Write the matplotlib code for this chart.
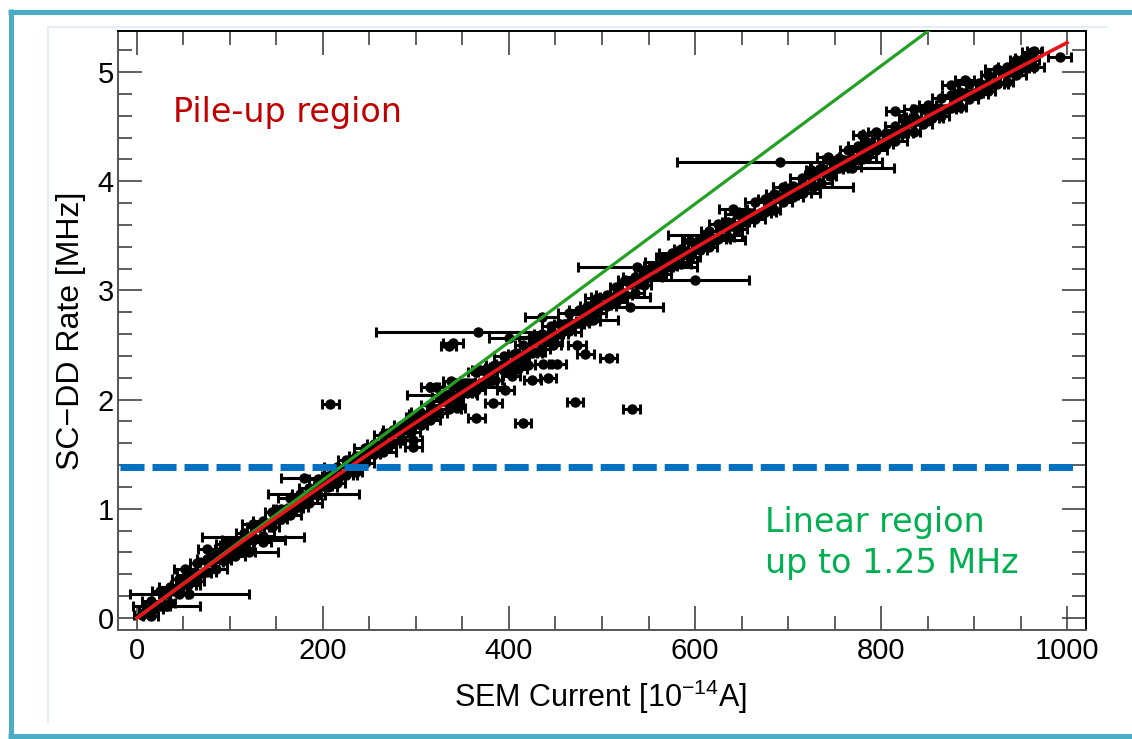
import matplotlib
matplotlib.use("Agg")
import matplotlib.pyplot as plt
from matplotlib.lines import Line2D
from matplotlib.ticker import MultipleLocator

plt.rcParams['font.family'] = ['Liberation Sans', 'DejaVu Sans']
plt.rcParams['mathtext.fontset'] = 'custom'
plt.rcParams['mathtext.rm'] = 'Liberation Sans'
plt.rcParams['mathtext.it'] = 'Liberation Sans:italic'
plt.rcParams['mathtext.bf'] = 'Liberation Sans:bold'

# ---------------- data ----------------
band_x = [10, 20, 30, 40, 50, 60, 70, 80, 90, 100,
          110, 120, 130, 140, 150, 160, 170, 180, 190, 200,
          210, 220, 230, 240, 250, 260, 270, 280, 290, 300,
          310, 320, 330, 340, 350, 360, 370, 380, 390, 400,
          410, 420, 430, 440, 450, 460, 470, 480, 490, 500,
          510, 520, 530, 540, 550, 560, 570, 580, 590, 600,
          610, 620, 630, 640, 650, 660, 670, 680, 690, 700,
          710, 720, 730, 740, 750, 760, 770, 780, 790, 800,
          810, 820, 830, 840, 850, 860, 870, 880, 890, 900,
          910, 920, 930, 940, 950, 960]
band_y = [0.07, 0.11, 0.22, 0.25, 0.30, 0.40, 0.41, 0.51, 0.58, 0.61,
          0.69, 0.72, 0.83, 0.86, 0.91, 1.00, 1.01, 1.11, 1.18, 1.21,
          1.29, 1.31, 1.42, 1.45, 1.50, 1.58, 1.59, 1.69, 1.75, 1.78,
          1.86, 1.88, 1.99, 2.01, 2.06, 2.14, 2.15, 2.24, 2.31, 2.33,
          2.41, 2.43, 2.54, 2.56, 2.60, 2.69, 2.69, 2.78, 2.84, 2.87,
          2.94, 2.96, 3.06, 3.08, 3.12, 3.21, 3.21, 3.30, 3.36, 3.38,
          3.45, 3.47, 3.57, 3.59, 3.63, 3.71, 3.71, 3.80, 3.86, 3.87,
          3.94, 3.96, 4.06, 4.08, 4.11, 4.19, 4.19, 4.28, 4.33, 4.35,
          4.42, 4.44, 4.53, 4.55, 4.58, 4.66, 4.66, 4.74, 4.80, 4.81,
          4.88, 4.89, 4.99, 5.00, 5.04, 5.11]
band_xerr = [8, 11, 6, 9, 13, 7, 10, 12, 6, 9,
             10, 7, 12, 8, 6, 11, 9, 14, 7, 10,
             9, 12, 7, 10, 6, 13, 8, 11, 9, 7,
             11, 8, 13, 6, 10, 9, 12, 7, 8, 14,
             7, 10, 9, 12, 8, 6, 11, 13, 9, 10,
             12, 7, 10, 8, 14, 9, 6, 11, 10, 8,
             9, 13, 7, 11, 8, 10, 12, 6, 9, 11,
             10, 8, 12, 7, 9, 14, 6, 10, 11, 8,
             13, 9, 7, 10, 12, 8, 11, 6, 9, 10,
             8, 12, 7, 11, 9, 10]

side_x = [15, 25, 35, 45, 55, 65, 75, 85, 95, 105,
          115, 125, 135, 145, 155, 165, 175, 185, 195, 205,
          215, 225, 235, 245, 255, 265, 275, 285, 295, 305,
          315, 325, 335, 345, 355, 365, 375, 385, 395, 405,
          415, 425, 435, 445, 455, 465, 475, 485, 495, 505,
          515, 525, 535, 545, 555, 565, 575, 585, 595, 605,
          615, 625, 635, 645, 655, 665, 675, 685, 695, 705,
          715, 725, 735, 745, 755, 765, 775, 785, 795, 805,
          815, 825, 835, 845, 855, 865, 875, 885, 895, 905,
          915, 925, 935, 945, 955, 965]
upper_y = [0.16, 0.25, 0.28, 0.36, 0.39, 0.50, 0.54, 0.59, 0.67, 0.70,
           0.78, 0.86, 0.89, 0.97, 1.00, 1.10, 1.14, 1.19, 1.27, 1.30,
           1.38, 1.45, 1.48, 1.56, 1.59, 1.68, 1.72, 1.77, 1.84, 1.87,
           1.95, 2.02, 2.05, 2.12, 2.15, 2.25, 2.28, 2.32, 2.40, 2.42,
           2.50, 2.57, 2.60, 2.67, 2.69, 2.79, 2.82, 2.86, 2.93, 2.96,
           3.03, 3.10, 3.12, 3.19, 3.22, 3.31, 3.34, 3.38, 3.45, 3.47,
           3.54, 3.61, 3.63, 3.70, 3.72, 3.81, 3.84, 3.88, 3.95, 3.96,
           4.03, 4.10, 4.12, 4.19, 4.21, 4.29, 4.32, 4.36, 4.43, 4.44,
           4.51, 4.58, 4.59, 4.66, 4.67, 4.76, 4.79, 4.82, 4.89, 4.90,
           4.97, 5.03, 5.05, 5.11, 5.13, 5.19]
lower_y = [0.02, 0.11, 0.14, 0.22, 0.30, 0.34, 0.42, 0.45, 0.53, 0.60,
           0.64, 0.72, 0.75, 0.83, 0.91, 0.94, 1.02, 1.05, 1.13, 1.20,
           1.24, 1.31, 1.34, 1.42, 1.50, 1.52, 1.60, 1.63, 1.70, 1.77,
           1.81, 1.88, 1.91, 1.98, 2.06, 2.09, 2.16, 2.18, 2.26, 2.32,
           2.36, 2.43, 2.46, 2.53, 2.60, 2.63, 2.70, 2.72, 2.79, 2.86,
           2.89, 2.96, 2.98, 3.05, 3.13, 3.15, 3.22, 3.24, 3.31, 3.37,
           3.40, 3.47, 3.49, 3.56, 3.63, 3.65, 3.72, 3.74, 3.81, 3.86,
           3.89, 3.96, 3.98, 4.05, 4.12, 4.13, 4.20, 4.22, 4.29, 4.34,
           4.37, 4.44, 4.45, 4.52, 4.58, 4.60, 4.67, 4.68, 4.75, 4.80,
           4.83, 4.89, 4.91, 4.97, 5.04, 5.05]

# scattered points / long error bars
extra_x = [5, 18, 56, 32, 52, 125, 190, 120, 125, 180, 208,
           340, 335, 367, 435, 400, 473, 482, 507, 430, 447, 437, 452,
           425, 442, 403, 369, 383, 396, 315, 322, 355, 328, 344, 304,
           383, 365, 415, 471, 532, 272, 297, 297, 270,
           375, 390, 410, 420, 338, 352,
           691, 769, 743, 727, 716, 641, 611, 620, 574, 538, 600, 520, 530, 490,
           962, 992, 815, 835, 850, 875, 890, 780, 795,
           75, 95, 115, 135, 85, 105]
extra_y = [0.03, 0.08, 0.22, 0.11, 0.45, 0.74, 1.14, 0.60, 0.71, 1.28, 1.96,
           2.52, 2.49, 2.62, 2.76, 2.56, 2.50, 2.42, 2.38, 2.44, 2.50, 2.33, 2.33,
           2.18, 2.20, 2.22, 2.27, 2.29, 2.09, 2.12, 2.12, 2.12, 2.04, 1.92, 1.89,
           1.97, 1.83, 1.79, 1.98, 1.91, 1.69, 1.63, 1.57, 1.57,
           2.25, 2.30, 2.28, 2.32, 2.17, 2.15,
           4.18, 4.12, 4.22, 3.95, 3.89, 3.75, 3.51, 3.46, 3.26, 3.21, 3.10, 2.94, 2.85, 2.73,
           5.18, 5.14, 4.64, 4.66, 4.70, 4.88, 4.93, 4.42, 4.45,
           0.63, 0.68, 0.60, 0.70, 0.55, 0.57]
extra_xerr = [8, 10, 64, 36, 12, 55, 49, 32, 34, 25, 9,
              11, 8, 110, 18, 22, 10, 9, 9, 9, 9, 9, 9,
              9, 9, 9, 9, 9, 9, 10, 8, 40, 38, 9, 9,
              9, 9, 9, 9, 9, 9, 9, 9, 9,
              8, 10, 9, 8, 9, 9,
              110, 45, 12, 43, 18, 15, 40, 34, 28, 64, 58, 32, 36, 27,
              10, 12, 10, 10, 9, 9, 10, 10, 9,
              9, 10, 12, 9, 8, 11]

# fitted curves
red_x = [0, 50, 100, 150, 200, 250, 300, 350, 400, 450, 500,
         550, 600, 650, 700, 750, 800, 850, 900, 950, 1000]
red_y = [0.0, 0.313, 0.621, 0.922, 1.217, 1.507, 1.791, 2.070, 2.343, 2.612, 2.876,
         3.135, 3.389, 3.638, 3.884, 4.125, 4.362, 4.594, 4.823, 5.048, 5.269]
green_x = [0, 1000]
green_y = [0.0, 6.32]

threshold_y = 1.38
threshold_x = [-18, 1006]

x_ticks = [0, 200, 400, 600, 800, 1000]
y_ticks = [0, 1, 2, 3, 4, 5]

# ---------------- figure ----------------
W, H = 1132, 739
fig = plt.figure(figsize=(W / 100, H / 100), dpi=100)
fig.patch.set_facecolor('white')

def fx(px):
    return px / W

def fy(py):
    return 1 - py / H

# outer frame (teal) and faint inner border
teal = '#4BACC6'
fig.add_artist(Line2D([fx(10.5), fx(10.5)], [fy(9), fy(739)], color=teal, lw=3.6,
                      transform=fig.transFigure, solid_capstyle='butt'))
fig.add_artist(Line2D([fx(8), fx(1132)], [fy(11.5), fy(11.5)], color=teal, lw=3.6,
                      transform=fig.transFigure, solid_capstyle='butt'))
fig.add_artist(Line2D([fx(8), fx(1132)], [fy(736), fy(736)], color=teal, lw=3.6,
                      transform=fig.transFigure, solid_capstyle='butt'))
faint = '#E6ECF5'
fig.add_artist(Line2D([fx(48), fx(48)], [fy(27), fy(722)], color=faint, lw=1.5,
                      transform=fig.transFigure))
fig.add_artist(Line2D([fx(48), fx(1107)], [fy(27), fy(27)], color=faint, lw=1.5,
                      transform=fig.transFigure))

ax = fig.add_axes([fx(118), 1 - 630 / H, 968 / W, 599 / H])
ax.set_xlim(-20.4, 1020.4)
ax.set_ylim(-0.11, 5.376)

eb_kw = dict(fmt='o', color='black', ecolor='black', markersize=6.5, elinewidth=2.2,
             capsize=3.5, capthick=2.2, zorder=2)
ax.errorbar(band_x, band_y, xerr=band_xerr, **eb_kw)
ax.errorbar(side_x, upper_y, xerr=band_xerr[::-1], **eb_kw)
ax.errorbar(side_x, lower_y, xerr=band_xerr, **eb_kw)
ax.errorbar(extra_x, extra_y, xerr=extra_xerr, **eb_kw)

ax.plot(green_x, green_y, color='#22A022', lw=2.3, zorder=3)
ax.plot(red_x, red_y, color='#E8161B', lw=2.6, zorder=4)
ax.plot(threshold_x, [threshold_y, threshold_y], color='#0070C0', lw=5,
        ls=(0, (3.46, 1.15)), dash_capstyle='butt', zorder=5, clip_on=False)

ax.set_xticks(x_ticks)
ax.set_yticks(y_ticks)
ax.xaxis.set_minor_locator(MultipleLocator(50))
ax.yaxis.set_minor_locator(MultipleLocator(0.2))
ax.tick_params(which='both', direction='in', top=True, right=True, color='#333333', width=1.1)
ax.tick_params(which='major', length=17)
ax.tick_params(which='minor', length=10)
ax.tick_params(axis='x', which='major', labelsize=21, pad=5)
ax.tick_params(axis='y', which='major', labelsize=21, pad=3)
for s in ax.spines.values():
    s.set_linewidth(1.4)
ax.spines['left'].set_color('#555555')
ax.spines['bottom'].set_color('#555555')

ax.set_xlabel('SEM Current [10$^{\\mathregular{-14}}$A]', fontsize=22, va='center')
ax.xaxis.set_label_coords((601 - 118) / 968, (630 - 697) / 599)
ax.set_ylabel('SC\u2212DD Rate [MHz]', fontsize=23, va='center')
ax.yaxis.set_label_coords((71 - 118) / 968, 0.5)

fig.text(fx(173), fy(122), 'Pile-up region', fontsize=24, color='#C00000',
         family='DejaVu Sans', va='baseline', ha='left')
fig.text(fx(765), fy(532), 'Linear region', fontsize=24, color='#00B050',
         family='DejaVu Sans', va='baseline', ha='left')
fig.text(fx(765), fy(573), 'up to 1.25 MHz', fontsize=24, color='#00B050',
         family='DejaVu Sans', va='baseline', ha='left')

fig.savefig('out.png', dpi=100, facecolor='white')
